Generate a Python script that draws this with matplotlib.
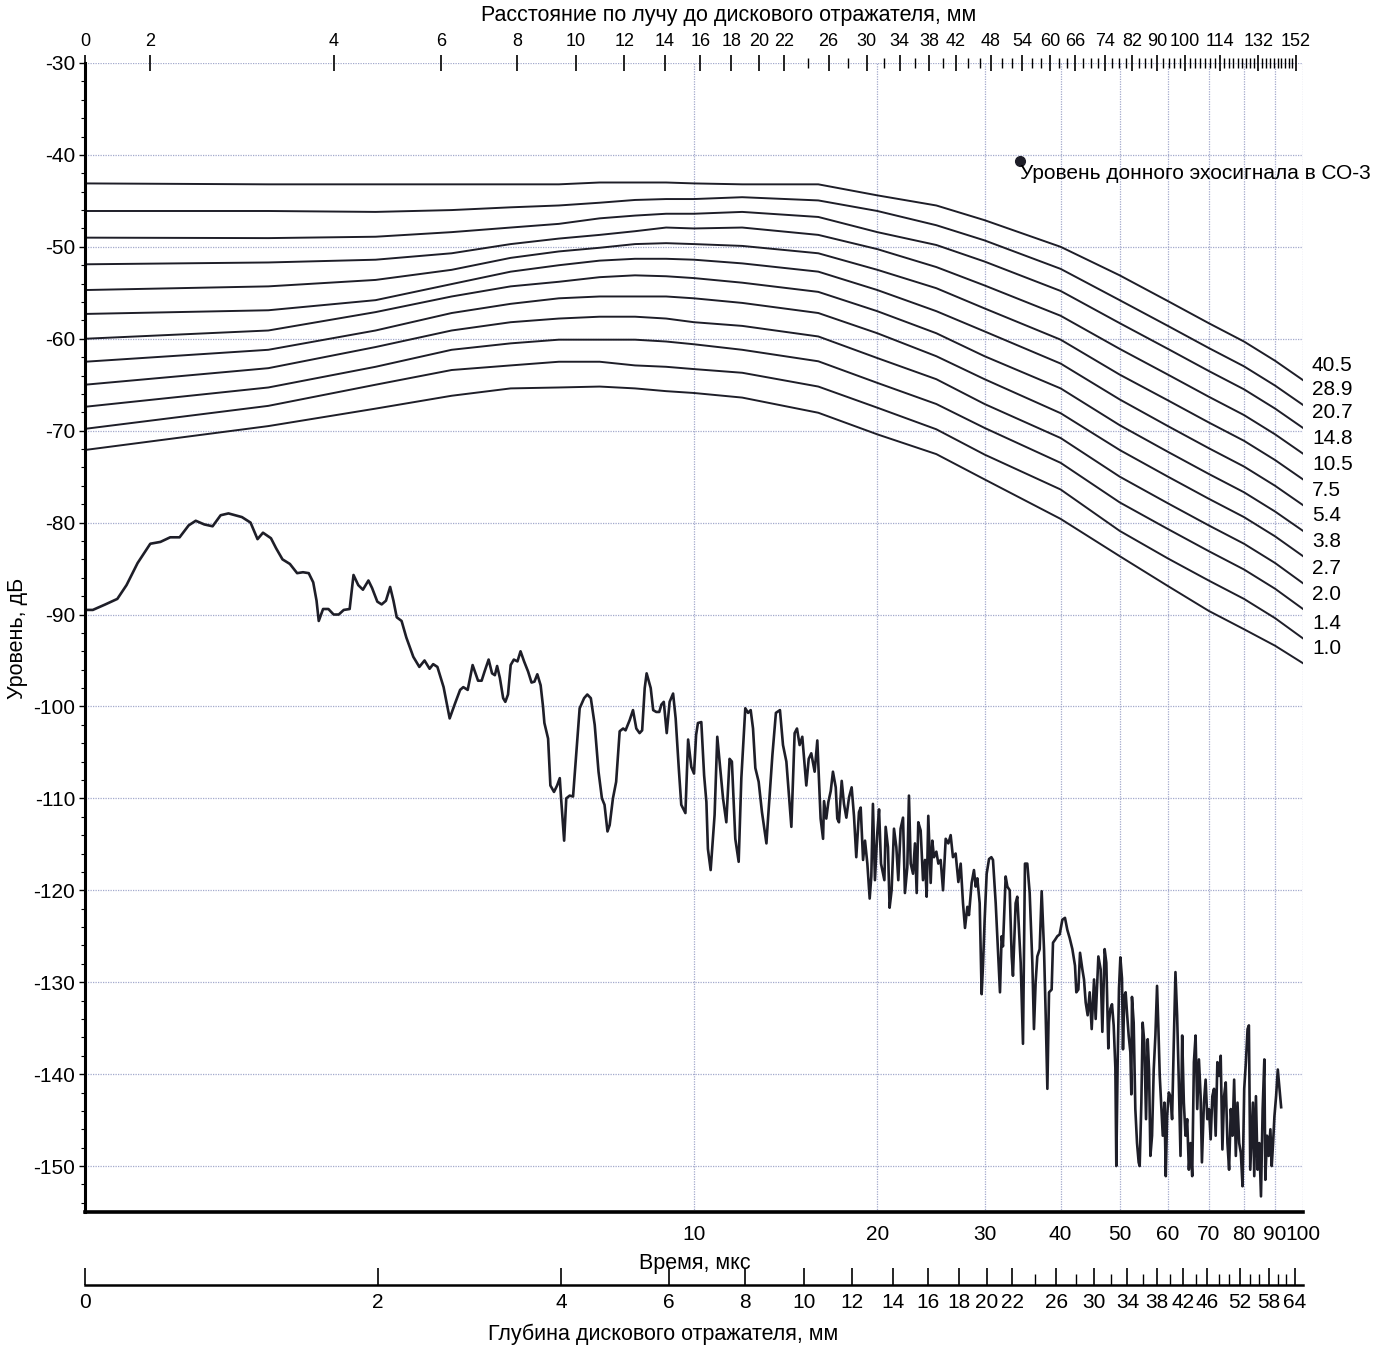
import numpy as np
import matplotlib
matplotlib.use('Agg')
import matplotlib.pyplot as plt
from matplotlib.ticker import FixedLocator, FixedFormatter, NullFormatter, NullLocator

plt.rcParams['font.family'] = ['Liberation Sans', 'DejaVu Sans']
plt.rcParams['axes.unicode_minus'] = False

# --- axes ranges -----------------------------------------------------------
t_min, t_max = 1.0, 100.0          # time, us (log scale)
db_min, db_max = -155, -30         # level, dB
time_ticks = [10, 20, 30, 40, 50, 60, 70, 80, 90, 100]

# beam path / depth scales
us_per_mm = 0.64                   # time per mm of beam path
beam_angle = 65                    # deg
beam_labels = [0, 2, 4, 6, 8, 10, 12, 14, 16, 18, 20, 22, 26, 30, 34, 38, 42,
               48, 54, 60, 66, 74, 82, 90, 100, 114, 132, 152]
depth_labels = [0, 2, 4, 6, 8, 10, 12, 14, 16, 18, 20, 22, 26, 30, 34, 38, 42,
                46, 52, 58, 64]

# --- DGS curves (level vs time) -------------------------------------------
dgs_t = [1, 2, 3, 4, 5, 6, 7, 8, 9, 10, 12, 16, 20, 25, 30, 40, 50, 60, 70, 80, 90, 100]
dgs_names = ['40.5', '28.9', '20.7', '14.8', '10.5', '7.5', '5.4', '3.8', '2.7', '2.0', '1.4', '1.0']
dgs_40_5 = [-43.1, -43.2, -43.2, -43.2, -43.2, -43.2, -43.0, -43.0, -43.0, -43.1, -43.2,
            -43.2, -44.4, -45.5, -47.1, -50.0, -53.1, -55.9, -58.3, -60.3, -62.4, -64.5]
dgs_28_9 = [-46.1, -46.1, -46.2, -46.0, -45.7, -45.5, -45.2, -44.9, -44.8, -44.8, -44.6,
            -44.95, -46.1, -47.65, -49.3, -52.4, -55.8, -58.6, -61.0, -63.0, -65.1, -67.2]
dgs_20_7 = [-49.0, -49.05, -48.9, -48.4, -47.9, -47.5, -46.9, -46.6, -46.4, -46.4, -46.2,
            -46.75, -48.4, -49.8, -51.6, -54.8, -58.3, -61.1, -63.5, -65.5, -67.6, -69.7]
dgs_14_8 = [-51.9, -51.7, -51.4, -50.7, -49.7, -49.1, -48.7, -48.3, -47.9, -48.0, -47.9,
            -48.7, -50.25, -52.2, -54.2, -57.5, -61.1, -63.9, -66.3, -68.3, -70.4, -72.5]
dgs_10_5 = [-54.7, -54.3, -53.6, -52.5, -51.2, -50.5, -50.1, -49.7, -49.6, -49.7, -49.9,
            -50.7, -52.5, -54.5, -56.7, -60.1, -63.9, -66.7, -69.1, -71.1, -73.2, -75.3]
dgs_7_5 = [-57.3, -56.9, -55.8, -54.05, -52.7, -52.0, -51.5, -51.3, -51.3, -51.4, -51.8,
           -52.7, -54.7, -57.0, -59.2, -62.7, -66.6, -69.5, -71.9, -73.9, -76.0, -78.1]
dgs_5_4 = [-60.0, -59.1, -57.1, -55.4, -54.3, -53.8, -53.3, -53.1, -53.2, -53.4, -53.9,
           -54.9, -57.0, -59.4, -61.9, -65.4, -69.4, -72.3, -74.7, -76.7, -78.8, -80.9]
dgs_3_8 = [-62.5, -61.2, -59.1, -57.2, -56.2, -55.6, -55.4, -55.4, -55.4, -55.6, -56.1,
           -57.2, -59.4, -61.9, -64.4, -68.1, -72.1, -75.0, -77.4, -79.4, -81.5, -83.65]
dgs_2_7 = [-65.0, -63.2, -60.9, -59.1, -58.2, -57.8, -57.6, -57.6, -57.8, -58.2, -58.6,
           -59.75, -62.1, -64.4, -67.1, -70.8, -75.0, -77.9, -80.3, -82.3, -84.4, -86.6]
dgs_2_0 = [-67.4, -65.3, -63.05, -61.2, -60.5, -60.1, -60.1, -60.1, -60.3, -60.6, -61.2,
           -62.45, -64.8, -67.1, -69.7, -73.5, -77.8, -80.7, -83.1, -85.1, -87.2, -89.4]
dgs_1_4 = [-69.8, -67.3, -65.0, -63.4, -62.9, -62.5, -62.5, -62.9, -63.05, -63.3, -63.7,
           -65.2, -67.5, -69.85, -72.6, -76.4, -80.9, -83.9, -86.3, -88.3, -90.4, -92.6]
dgs_1_0 = [-72.1, -69.5, -67.6, -66.2, -65.4, -65.3, -65.2, -65.4, -65.7, -65.9, -66.4,
           -68.05, -70.4, -72.55, -75.3, -79.6, -83.65, -86.9, -89.6, -91.6, -93.4, -95.3]
dgs_curves = [dgs_40_5, dgs_28_9, dgs_20_7, dgs_14_8, dgs_10_5, dgs_7_5,
              dgs_5_4, dgs_3_8, dgs_2_7, dgs_2_0, dgs_1_4, dgs_1_0]

# --- noise trace ------------------------------------------------------------
noise_t = [
    1.00, 1.03, 1.08, 1.13, 1.17, 1.22, 1.28, 1.33, 1.38, 1.43, 1.48, 1.52, 1.57, 1.62,
    1.67, 1.72, 1.81, 1.87, 1.92, 1.96, 2.02, 2.06, 2.11, 2.17, 2.23, 2.28, 2.33, 2.37,
    2.40, 2.42, 2.46, 2.51, 2.56, 2.61, 2.66, 2.72, 2.76, 2.81, 2.86, 2.92, 2.96, 3.02,
    3.07, 3.12, 3.17, 3.21, 3.25, 3.31, 3.37, 3.46, 3.54, 3.61, 3.68, 3.73, 3.79, 3.88,
    3.97, 4.05, 4.13, 4.18, 4.25, 4.33, 4.42,
    4.48, 4.53, 4.60, 4.66, 4.71, 4.75, 4.80, 4.86, 4.90, 4.95, 5.00, 5.06, 5.13, 5.19,
    5.26, 5.34, 5.41, 5.47, 5.53, 5.60, 5.65, 5.68, 5.76, 5.81, 5.89, 5.96, 6.02, 6.05,
    6.12, 6.17, 6.25, 6.33, 6.41, 6.49, 6.60, 6.68, 6.77, 6.87, 6.97, 7.06, 7.13, 7.21,
    7.27, 7.36, 7.45, 7.55, 7.65, 7.72, 7.84, 7.94, 8.04, 8.14, 8.22, 8.30, 8.36, 8.49,
    8.57, 8.67, 8.77, 8.84, 8.92, 9.02, 9.12, 9.24, 9.33, 9.44, 9.53, 9.68, 9.78, 9.90,
    10.00, 10.08, 10.15, 10.28, 10.39, 10.48, 10.54, 10.65, 10.81, 10.92, 11.03, 11.16,
    11.30, 11.44, 11.54, 11.69, 11.84, 11.96, 12.14, 12.27, 12.39, 12.50, 12.61, 12.77,
    12.93, 13.15, 13.23, 13.45, 13.63, 13.84, 14.00, 14.18, 14.45, 14.63, 14.76, 14.91,
    15.06, 15.29, 15.43, 15.58, 15.78, 15.94,
    16.14, 16.29, 16.35, 16.49, 16.62, 16.77, 16.91, 17.09, 17.19, 17.30, 17.48, 17.63,
    17.79, 17.97, 18.15, 18.31, 18.47, 18.66, 18.78, 18.95, 19.09, 19.26, 19.43, 19.55,
    19.67, 19.82, 20.00, 20.13, 20.28, 20.38, 20.54, 20.64, 20.82, 20.95, 21.11, 21.30,
    21.49, 21.65, 21.84, 22.04, 22.20, 22.40, 22.54, 22.69, 22.89, 23.06, 23.21, 23.35,
    23.56, 23.77, 23.95, 24.10, 24.25, 24.47, 24.62, 24.78, 25.00, 25.19, 25.41, 25.64,
    25.90, 26.16, 26.39, 26.62, 26.89, 27.17, 27.41, 27.65, 27.86, 28.11, 28.28, 28.57,
    28.82, 29.01, 29.19, 29.45, 29.67, 29.82, 30.01, 30.24, 30.51, 30.78, 30.97, 31.29,
    31.60, 31.80, 32.00, 32.16, 32.49, 32.70, 32.99, 33.24, 33.40, 33.74, 33.95, 34.17,
    34.39, 34.69, 34.95, 35.26, 35.58, 35.94, 36.16, 36.39, 36.62, 36.95, 37.23, 37.56,
    37.80, 38.04, 38.28, 38.66, 38.86, 39.15, 39.50, 39.85, 40.26, 40.66, 41.02, 41.39,
    41.81, 42.23, 42.44, 42.77, 43.04, 43.42, 43.69, 43.97, 44.30, 44.64, 44.98, 45.38,
    45.66, 46.13, 46.53, 46.83, 47.24, 47.54, 47.90,
    48.03, 48.27, 48.57, 48.88, 49.19, 49.37, 49.62, 49.87, 50.13, 50.44, 50.63, 50.89,
    51.14, 51.40, 51.73, 52.06, 52.25, 52.38, 52.72, 53.05, 53.39, 53.72, 53.93, 54.27,
    54.54, 54.89, 55.24, 55.59, 55.87, 56.16, 56.51, 56.87, 57.23, 57.59, 57.89, 58.18,
    58.47, 58.85, 59.22, 59.52, 59.82, 60.20, 60.58, 60.96, 61.35, 61.74, 62.13, 62.53,
    62.93, 63.33, 63.73, 64.13, 64.54, 64.95, 65.36, 65.78, 66.20, 66.62, 67.04, 67.47,
    67.90, 68.24, 68.76, 69.20, 69.64, 70.08, 70.53, 70.98, 71.43, 71.88, 72.34, 72.80,
    73.26, 73.73, 74.20, 74.67, 75.15, 75.62, 76.11, 76.59, 77.08, 77.57, 78.06, 78.56,
    79.06, 79.56, 80.07, 80.58, 81.09, 81.50, 81.92, 82.33, 82.75, 83.17, 83.70, 84.23,
    84.77, 85.31, 85.85, 86.40, 86.73, 87.28, 87.84, 88.40, 88.85, 89.30, 89.76, 90.33,
    90.91, 91.49, 92.07]
noise_db = [
    -89.5, -89.5, -88.9, -88.3, -86.8, -84.4, -82.3, -82.1, -81.6, -81.6, -80.3, -79.8, -80.2, -80.4,
    -79.2, -79.0, -79.4, -80.0, -81.8, -81.1, -81.7, -82.8, -84.0, -84.5, -85.5, -85.4, -85.5, -86.5,
    -88.5, -90.7, -89.4, -89.4, -90.0, -90.0, -89.5, -89.4, -85.7, -86.8, -87.3, -86.3, -87.1, -88.6,
    -88.9, -88.5, -87.0, -88.5, -90.3, -90.7, -92.5, -94.6, -95.7, -95.0, -95.9, -95.4, -95.7, -97.9,
    -101.3, -99.7, -98.2, -97.9, -98.2, -95.5, -97.2,
    -97.2, -96.2, -94.9, -96.4, -96.6, -95.6, -96.9, -99.1, -99.5, -98.7, -95.5, -94.9, -95.1, -94.0,
    -95.1, -96.2, -97.4, -97.3, -96.5, -97.7, -100.0, -101.8, -103.5, -108.6, -109.3, -108.6, -107.8, -110.0,
    -114.6, -110.0, -109.7, -109.8, -104.9, -100.2, -99.1, -98.7, -99.1, -102.0, -107.1, -110.0, -110.7, -113.6,
    -112.9, -110.0, -108.2, -102.7, -102.4, -102.6, -101.5, -100.4, -102.4, -102.9, -102.6, -98.0, -96.4, -98.0,
    -100.4, -100.6, -100.6, -99.8, -99.5, -102.9, -99.5, -98.6, -101.3, -106.7, -110.7, -111.6, -103.6, -106.6,
    -107.3, -103.1, -101.8, -101.7, -107.5, -110.4, -115.5, -117.8, -111.8, -103.3, -106.4, -110.0,
    -112.6, -105.7, -106.0, -114.4, -116.9, -107.8, -100.2, -100.7, -100.4, -102.4, -106.7, -108.2,
    -111.5, -114.9, -112.2, -105.3, -100.7, -100.4, -104.2, -106.0, -113.1, -102.9, -102.4, -104.2,
    -103.3, -108.6, -105.7, -105.1, -107.1, -103.7,
    -112.2, -114.4, -110.3, -112.2, -110.4, -109.2, -107.1, -108.8, -112.2, -112.6, -108.1, -110.6,
    -112.1, -109.9, -108.8, -111.9, -116.4, -111.5, -111.0, -116.7, -114.6, -117.1, -120.9, -118.5,
    -110.6, -118.9, -113.7, -111.2, -117.1, -117.8, -118.9, -113.1, -115.3, -121.9, -120.0, -113.3,
    -115.3, -118.9, -113.3, -112.1, -120.3, -117.5, -109.7, -117.1, -118.2, -114.9, -120.3, -112.6,
    -113.5, -118.9, -116.7, -120.7, -111.9, -119.2, -114.6, -116.4, -115.8, -117.1, -116.7, -120.0,
    -114.4, -114.9, -114.0, -116.4, -116.0, -119.1, -117.1, -121.4, -124.1, -121.8, -122.7, -119.2,
    -117.8, -119.6, -118.7, -121.4, -131.3, -128.2, -123.2, -118.2, -116.6, -116.4, -116.7, -121.4,
    -127.2, -131.1, -125.0, -126.1, -118.5, -119.6, -120.0, -127.2, -129.3, -121.4, -120.7, -124.3,
    -127.9, -136.7, -117.1, -117.1, -120.3, -127.9, -135.1, -130.0, -127.2, -126.4, -120.1, -126.4,
    -133.6, -141.6, -131.1, -130.8, -125.7, -125.4, -125.0, -124.8, -123.2, -123.0, -124.3, -125.2,
    -126.4, -128.2, -131.1, -130.8, -126.8, -128.6, -129.7, -132.2, -133.6, -131.1, -135.1, -129.7,
    -134.0, -127.2, -128.6, -135.4, -126.4, -127.9, -137.2,
    -134.4, -132.9, -132.4, -134.7, -139.3, -150.0, -138.7, -130.7, -127.3, -129.6, -137.3, -131.5,
    -131.1, -133.3, -135.8, -137.6, -142.2, -131.6, -134.4, -143.8, -147.5, -149.6, -150.0, -143.1,
    -134.4, -136.6, -144.9, -136.2, -139.5, -148.9, -146.7, -139.5, -135.8, -130.4, -135.1, -140.2,
    -143.1, -146.7, -143.1, -151.1, -144.6, -142.0, -142.4, -144.9, -136.6, -128.9, -133.6, -140.9,
    -148.9, -135.8, -143.1, -146.7, -144.9, -150.4, -147.5, -151.1, -138.7, -135.8, -143.8, -138.4,
    -142.4, -149.6, -143.1, -140.6, -144.9, -143.8, -147.1, -142.4, -141.6, -146.7, -138.7, -140.2,
    -138.0, -148.2, -142.4, -140.9, -147.5, -150.4, -143.8, -146.7, -140.6, -148.9, -143.1, -147.5,
    -148.6, -152.2, -141.6, -138.7, -135.1, -134.7, -150.4, -146.7, -143.1, -151.1, -142.4, -150.4,
    -147.5, -153.3, -143.8, -138.4, -151.5, -146.7, -148.9, -146.0, -150.0, -147.5, -144.6, -142.4,
    -139.5, -141.6, -143.6]

# bottom echo level in the reference block
echo_t, echo_db = 34.3, -40.7
echo_label = 'Уровень донного эхосигнала в СО-3'

# --- figure -----------------------------------------------------------------
W, H = 1388, 1346
fig = plt.figure(figsize=(W / 100, H / 100), dpi=100)
ax = fig.add_axes([85 / W, 1 - 1212 / H, 1218 / W, 1149 / H])

line_color = '#1e1e28'
grid_color = '#a3a9cc'
fs = 15

ax.set_xscale('log')
ax.set_xlim(t_min, t_max)
ax.set_ylim(db_min, db_max)

ax.xaxis.set_major_locator(FixedLocator(time_ticks))
ax.xaxis.set_major_formatter(FixedFormatter([str(v) for v in time_ticks]))
ax.xaxis.set_minor_locator(NullLocator())
ax.set_yticks(list(range(-150, -29, 10)))
ax.yaxis.set_minor_locator(FixedLocator(list(range(-154, -29, 2))))
ax.grid(True, which='major', color=grid_color, linestyle=(0, (1, 1)), linewidth=0.9)

ax.tick_params(axis='x', which='major', length=0, pad=9, labelsize=fs)
ax.tick_params(axis='y', which='major', direction='out', length=4, width=1, pad=3, labelsize=fs)
ax.tick_params(axis='y', which='minor', direction='out', length=3, width=0.8)

for side in ['top', 'right']:
    ax.spines[side].set_visible(False)
ax.spines['left'].set_linewidth(2.2)
ax.spines['bottom'].set_linewidth(2.6)

for name, vals in zip(dgs_names, dgs_curves):
    ax.plot(dgs_t, vals, color=line_color, linewidth=1.4)
    ax.annotate(name, xy=(dgs_t[-1], vals[-1]), xytext=(9, 15), textcoords='offset pixels',
                ha='left', va='center', fontsize=fs, annotation_clip=False)

ax.plot(noise_t, noise_db, color=line_color, linewidth=1.9)

ax.plot([echo_t], [echo_db], 'o', color=line_color, markersize=7)
ax.annotate(echo_label, xy=(echo_t, echo_db), xytext=(0, -12), textcoords='offset pixels',
            ha='left', va='center', fontsize=fs)

# top axis: distance along the beam
ax_top = ax.twiny()
ax_top.set_xscale('log')
ax_top.set_xlim(t_min, t_max)
beam_pos = [t_min] + [d * us_per_mm for d in beam_labels[1:]]
beam_minor = [d * us_per_mm for d in range(2, 153, 2) if d not in beam_labels]
ax_top.xaxis.set_major_locator(FixedLocator(beam_pos))
ax_top.xaxis.set_major_formatter(FixedFormatter([str(d) for d in beam_labels]))
ax_top.xaxis.set_minor_locator(FixedLocator(beam_minor))
ax_top.xaxis.set_minor_formatter(NullFormatter())
ax_top.tick_params(axis='x', which='major', direction='inout', length=12, width=1.2, pad=3, labelsize=13)
ax_top.tick_params(axis='x', which='minor', direction='inout', length=7, width=1)
for s in ax_top.spines.values():
    s.set_visible(False)

# bottom axis: reflector depth
cos_a = np.cos(np.radians(beam_angle))
ax_d = fig.add_axes([85 / W, 1 - 1285 / H, 1218 / W, 0.001])
ax_d.set_xscale('log')
ax_d.set_xlim(t_min, t_max)
depth_pos = [t_min] + [h / cos_a * us_per_mm for h in depth_labels[1:]]
depth_minor = [h / cos_a * us_per_mm for h in range(2, 65, 2) if h not in depth_labels]
ax_d.xaxis.set_major_locator(FixedLocator(depth_pos))
ax_d.xaxis.set_major_formatter(FixedFormatter([str(h) for h in depth_labels]))
ax_d.xaxis.set_minor_locator(FixedLocator(depth_minor))
ax_d.xaxis.set_minor_formatter(NullFormatter())
ax_d.yaxis.set_visible(False)
ax_d.patch.set_visible(False)
for side in ['top', 'left', 'right']:
    ax_d.spines[side].set_visible(False)
ax_d.spines['bottom'].set_linewidth(1.8)
ax_d.tick_params(axis='x', which='major', direction='in', length=12, width=1.2, pad=6, labelsize=fs)
ax_d.tick_params(axis='x', which='minor', direction='in', length=8, width=1)

# axis titles
fig.text(729 / W, 1 - 16 / H, 'Расстояние по лучу до дискового отражателя, мм',
         ha='center', va='center', fontsize=15.5)
fig.text(695 / W, 1 - 1263 / H, 'Время, мкс', ha='center', va='center', fontsize=15.5)
fig.text(663 / W, 1 - 1334 / H, 'Глубина дискового отражателя, мм',
         ha='center', va='center', fontsize=15.5)
fig.text(18 / W, 1 - 638 / H, 'Уровень, дБ', rotation=90, ha='center', va='center', fontsize=15.5)

fig.savefig('out.png', dpi=100)
